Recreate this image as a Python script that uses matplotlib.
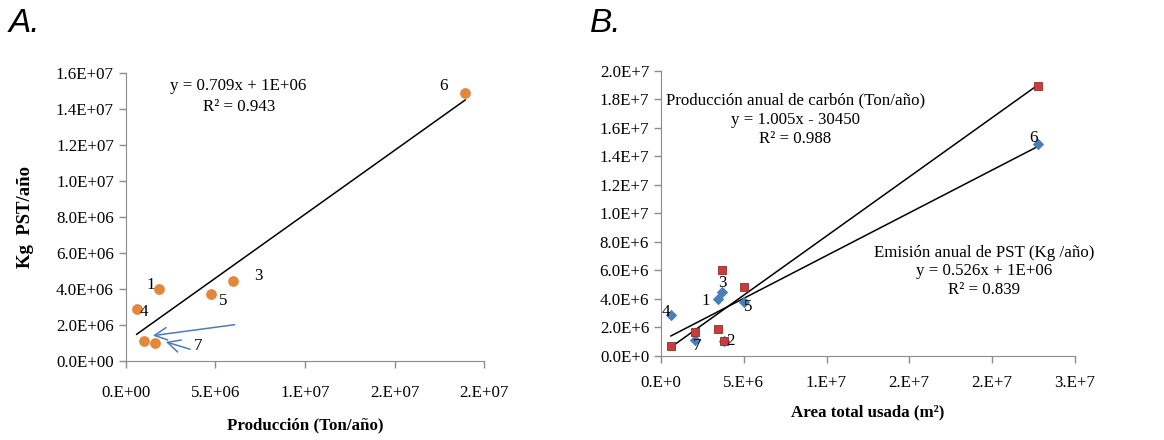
import numpy as np
import matplotlib
matplotlib.use("Agg")
import matplotlib.pyplot as plt
from matplotlib.ticker import FixedLocator, FixedFormatter

plt.rcParams['font.family'] = ['Liberation Serif', 'DejaVu Serif']

# Panel A: produccion vs emision de PST
prod_a = [0.61e6, 1.02e6, 1.62e6, 1.84e6, 4.74e6, 6.0e6, 18.94e6]
pst_a = [2.87e6, 1.11e6, 1.02e6, 3.99e6, 3.73e6, 4.47e6, 14.89e6]
lab_a = ['4', '', '', '1', '5', '3', '6']
eq_a = ["y = 0.709x + 1E+06", "R² = 0.943"]

# Panel B: area total usada vs emision (rombos) y produccion (cuadrados)
area_b = [3.44e6, 3.80e6, 3.70e6, 0.60e6, 5.02e6, 22.76e6, 2.07e6]
pst_b = [4.00e6, 1.02e6, 4.47e6, 2.87e6, 3.81e6, 14.86e6, 1.10e6]
prod_b = [1.89e6, 1.07e6, 6.03e6, 0.70e6, 4.82e6, 18.95e6, 1.70e6]
lab_b = ['1', '2', '3', '4', '5', '6', '7']
eq_prod_b = ["Producción anual de carbón (Ton/año)", "y = 1.005x - 30450", "R² = 0.988"]
eq_pst_b = ["Emisión anual de PST (Kg /año)", "y = 0.526x + 1E+06", "R² = 0.839"]

xt_a = [0, 5e6, 1e7, 1.5e7, 2e7]
xl_a = ["0.E+00", "5.E+06", "1.E+07", "2.E+07", "2.E+07"]
yt_a = [0, 2e6, 4e6, 6e6, 8e6, 1e7, 1.2e7, 1.4e7, 1.6e7]
yl_a = ["0.0E+00", "2.0E+06", "4.0E+06", "6.0E+06", "8.0E+06",
        "1.0E+07", "1.2E+07", "1.4E+07", "1.6E+07"]
xt_b = [0, 5e6, 1e7, 1.5e7, 2e7, 2.5e7]
xl_b = ["0.E+0", "5.E+6", "1.E+7", "2.E+7", "2.E+7", "3.E+7"]
yt_b = [0, 2e6, 4e6, 6e6, 8e6, 1e7, 1.2e7, 1.4e7, 1.6e7, 1.8e7, 2e7]
yl_b = ["0.0E+0", "2.0E+6", "4.0E+6", "6.0E+6", "8.0E+6", "1.0E+7",
        "1.2E+7", "1.4E+7", "1.6E+7", "1.8E+7", "2.0E+7"]

orange = "#E2873C"
blue = "#4A7EBB"
red = "#C83C3A"
fs = 12.2

fig = plt.figure(figsize=(11.64, 4.4), dpi=100)
axA = fig.add_axes([0.108, 0.1795, 0.308, 0.654])
axB = fig.add_axes([0.5679, 0.1909, 0.3554, 0.6484])


def style(ax, xt, xl, yt, yl, xlim, ylim, xpad):
    ax.set_xlim(*xlim)
    ax.set_ylim(*ylim)
    ax.xaxis.set_major_locator(FixedLocator(xt))
    ax.xaxis.set_major_formatter(FixedFormatter(xl))
    ax.yaxis.set_major_locator(FixedLocator(yt))
    ax.yaxis.set_major_formatter(FixedFormatter(yl))
    for s in ['top', 'right']:
        ax.spines[s].set_visible(False)
    for s in ['left', 'bottom']:
        ax.spines[s].set_color('#8c8c8c')
    ax.tick_params(axis='both', colors='#8c8c8c', labelcolor='black', labelsize=fs, length=5, width=1)
    ax.tick_params(axis='x', pad=xpad)


def trend(ax, x, y):
    k, b = np.polyfit(x, y, 1)
    xs = np.array([min(x), max(x)])
    ax.plot(xs, k * xs + b, color='black', lw=1.1, zorder=2)


arrow = dict(arrowstyle='->,head_length=0.9,head_width=0.45', color=blue, lw=1.1)

# --- A ---
style(axA, xt_a, xl_a, yt_a, yl_a, (0, 2e7), (0, 1.6e7), 12)
trend(axA, prod_a, pst_a)
axA.scatter(prod_a, pst_a, s=60, color=orange, zorder=3, linewidths=0)
off_a = {'4': (5, -2), '1': (-6, 3), '5': (9, -5), '3': (18, 3), '6': (-16, 5)}
for x, y, t in zip(prod_a, pst_a, lab_a):
    if t:
        axA.annotate(t, (x, y), xytext=off_a[t], textcoords='offset points',
                     ha='center', va='center', fontsize=fs)
axA.annotate('', xy=(1.36e6, 1.39e6), xytext=(6.23e6, 2.04e6), arrowprops=arrow)
axA.annotate('', xy=(2.09e6, 1.11e6), xytext=(3.74e6, 0.61e6), arrowprops=arrow)
axA.text(4.02e6, 0.83e6, '7', ha='center', va='center', fontsize=fs)
axA.text(6.3e6, 1.53e7, eq_a[0], ha='center', va='center', fontsize=fs)
axA.text(6.3e6, 1.41e7, eq_a[1], ha='center', va='center', fontsize=fs)
axA.set_xlabel("Producción (Ton/año)", fontsize=fs, fontweight='bold', labelpad=12)
axA.set_ylabel("Kg  PST/año", fontsize=13.5, fontweight='bold', labelpad=16)

# --- B ---
style(axB, xt_b, xl_b, yt_b, yl_b, (0, 2.5e7), (0, 2e7), 9)
trend(axB, area_b, prod_b)
trend(axB, area_b, pst_b)
axB.scatter(area_b, pst_b, s=34, marker='D', color=blue, zorder=3, linewidths=0)
axB.scatter(area_b, prod_b, s=38, marker='s', color=red, edgecolors='#9c2a28', linewidths=0.6, zorder=4)
off_b = {'1': (-9, -1.5), '2': (5, 0.5), '3': (0, 7), '4': (-4, 2), '5': (3, -4), '6': (-3, 4), '7': (1.5, -4)}
for x, y, t in zip(area_b, pst_b, lab_b):
    axB.annotate(t, (x, y), xytext=off_b[t], textcoords='offset points',
                 ha='center', va='center', fontsize=fs, zorder=5)
for i, t in enumerate(eq_prod_b):
    axB.text(8.1e6, 1.79e7 - i * 0.135e7, t, ha='center', va='center', fontsize=fs)
for i, t in enumerate(eq_pst_b):
    axB.text(1.95e7, 7.25e6 - i * 0.13e7, t, ha='center', va='center', fontsize=fs)
axB.set_xlabel("Area total usada (m²)", fontsize=fs, fontweight='bold', labelpad=9)

fig.text(0.007, 0.946, "A.", family=['Liberation Sans', 'DejaVu Sans'], style='italic', fontsize=24, va='center')
fig.text(0.507, 0.946, "B.", family=['Liberation Sans', 'DejaVu Sans'], style='italic', fontsize=24, va='center')

fig.savefig("out.png", dpi=100)
